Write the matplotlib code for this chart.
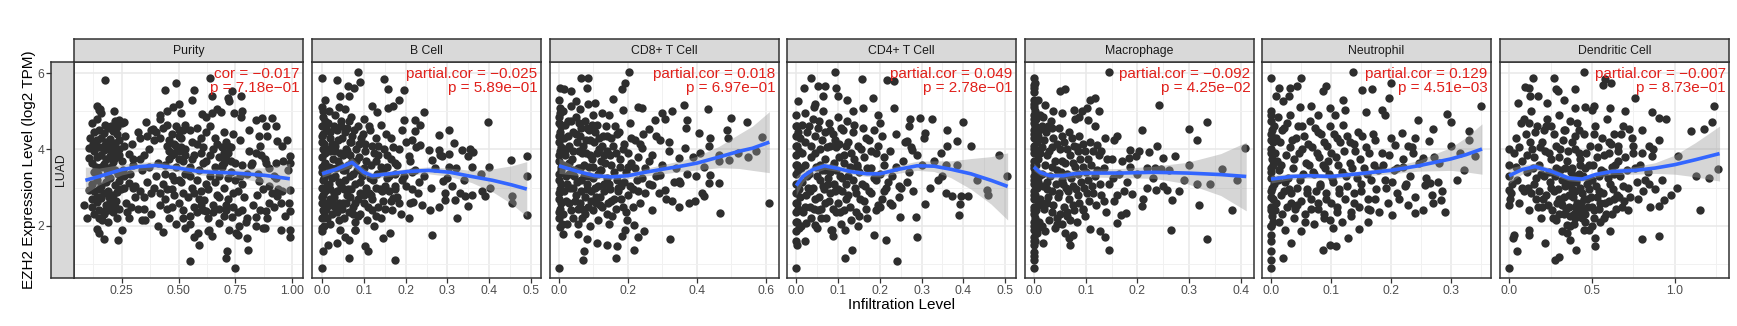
import numpy as np
import matplotlib.pyplot as plt

plt.rcParams['font.family'] = ['Liberation Sans', 'DejaVu Sans']

# facet titles / stats
cell_types = ["Purity", "B Cell", "CD8+ T Cell", "CD4+ T Cell",
              "Macrophage", "Neutrophil", "Dendritic Cell"]
cor_names = ["cor", "partial.cor", "partial.cor", "partial.cor",
             "partial.cor", "partial.cor", "partial.cor"]
cor_values = ["\u22120.017", "\u22120.025", "0.018", "0.049",
              "\u22120.092", "0.129", "\u22120.007"]
p_values = ["7.18e\u221201", "5.89e\u221201", "6.97e\u221201", "2.78e\u221201",
            "4.25e\u221202", "4.51e\u221203", "8.73e\u221201"]

x_ticks = [[0.25, 0.5, 0.75, 1.0], [0, .1, .2, .3, .4, .5], [0, .2, .4, .6],
           [0, .1, .2, .3, .4, .5], [0, .1, .2, .3, .4], [0, .1, .2, .3], [0, .5, 1.0]]
x_tick_labels = [["0.25", "0.50", "0.75", "1.00"],
                 ["0.0", "0.1", "0.2", "0.3", "0.4", "0.5"],
                 ["0.0", "0.2", "0.4", "0.6"],
                 ["0.0", "0.1", "0.2", "0.3", "0.4", "0.5"],
                 ["0.0", "0.1", "0.2", "0.3", "0.4"],
                 ["0.0", "0.1", "0.2", "0.3"],
                 ["0.0", "0.5", "1.0"]]
y_ticks = [2, 4, 6]
row_label = "LUAD"

# scatter points (infiltration, EZH2 log2 TPM)
purity_pts = [
    (0.178, 5.83), (0.569, 5.56), (0.44, 5.56), (0.49, 5.75), (0.646, 5.41), (0.64, 5.87),
    (0.72, 5.35), (0.773, 5.41), (0.736, 5.52), (0.142, 5.14), (0.152, 5.04), (0.218, 5.0),
    (0.561, 5.30), (0.91, 4.82), (0.93, 4.6), (0.978, 4.25), (0.99, 3.82), (0.99, 3.64),
    (0.99, 2.94), (0.985, 2.6), (0.99, 2.38), (0.99, 1.9), (0.99, 1.70), (0.95, 1.9),
    (0.88, 1.94), (0.807, 1.37), (0.747, 0.88), (0.715, 1.33), (0.71, 1.15), (0.551, 1.08),
    (0.59, 1.5), (0.587, 1.81), (0.43, 1.83), (0.352, 2.14), (0.235, 1.63), (0.174, 1.65),
    (0.149, 1.81), (0.14, 1.91), (0.097, 2.2), (0.086, 2.55), (0.108, 2.94), (0.108, 4.03),
    (0.111, 4.30), (0.108, 3.77), (0.24, 4.78), (0.262, 4.73), (0.357, 4.73), (0.386, 4.53),
    (0.418, 4.91), (0.474, 5.11), (0.51, 4.95), (0.605, 4.93), (0.649, 4.95), (0.686, 4.97),
    (0.722, 5.26), (0.745, 4.95), (0.774, 4.86), (0.81, 4.52), (0.854, 4.34), (0.839, 4.78),
    (0.868, 4.82), (0.883, 4.6), (0.934, 4.21), (0.956, 4.08), (0.883, 3.64), (0.861, 3.86),
    (0.825, 3.64), (0.78, 3.6), (0.854, 3.16), (0.898, 3.03), (0.927, 3.25), (0.846, 2.81),
    (0.898, 2.6), (0.934, 2.77), (0.956, 2.9), (0.883, 2.38), (0.839, 2.24), (0.795, 2.11),
    (0.766, 1.98), (0.803, 1.68), (0.751, 1.81), (0.722, 1.9), (0.736, 2.24), (0.708, 2.42),
    (0.678, 2.07), (0.634, 1.9), (0.649, 1.72), (0.62, 2.38), (0.612, 2.68),
    (0.13, 4.45), (0.15, 4.50), (0.17, 4.42), (0.19, 4.55), (0.21, 4.48), (0.23, 4.40),
    (0.14, 4.25), (0.16, 4.30), (0.18, 4.20), (0.20, 4.28), (0.22, 4.18), (0.24, 4.25),
    (0.26, 4.10), (0.13, 3.95), (0.15, 4.05), (0.17, 3.98), (0.19, 4.02), (0.21, 3.92),
    (0.23, 3.96), (0.14, 3.80), (0.16, 3.85), (0.18, 3.75), (0.20, 3.82), (0.22, 3.78),
    (0.24, 3.85), (0.12, 3.65), (0.17, 3.62), (0.21, 3.66), (0.25, 3.70), (0.28, 3.88),
    (0.30, 3.75), (0.12, 3.10), (0.14, 3.20), (0.16, 3.05), (0.18, 3.15), (0.20, 3.25),
    (0.22, 3.08), (0.24, 3.18), (0.13, 2.90), (0.15, 2.95), (0.17, 2.85), (0.19, 2.92),
    (0.21, 2.80), (0.23, 2.88), (0.26, 2.98), (0.28, 3.12), (0.12, 2.70), (0.14, 2.62),
    (0.16, 2.72), (0.18, 2.55), (0.20, 2.65), (0.22, 2.50), (0.15, 2.40), (0.17, 2.30),
    (0.19, 2.42), (0.21, 2.35), (0.24, 2.45), (0.27, 2.60), (0.29, 2.50), (0.13, 2.30),
    (0.19, 2.10), (0.23, 2.20), (0.25, 1.90), (0.12, 4.70), (0.14, 4.80), (0.155, 5.05),
    (0.16, 4.95), (0.205, 4.62), (0.22, 4.75), (0.25, 4.68), (0.23, 4.58),
    (0.30, 3.6), (0.33, 3.75), (0.35, 3.85), (0.37, 4.0), (0.33, 4.3), (0.38, 4.5),
    (0.42, 4.3), (0.45, 4.1), (0.47, 4.4), (0.49, 4.6), (0.51, 4.3), (0.53, 4.0),
    (0.48, 3.9), (0.50, 3.95), (0.46, 3.75), (0.52, 3.7), (0.44, 3.6), (0.55, 4.5),
    (0.56, 4.2), (0.58, 4.55), (0.60, 4.3), (0.61, 4.05), (0.57, 3.85), (0.40, 3.3),
    (0.43, 3.1), (0.45, 2.95), (0.48, 2.8), (0.50, 2.6), (0.52, 2.4), (0.47, 2.5),
    (0.44, 2.7), (0.42, 2.85), (0.39, 3.0), (0.36, 3.15), (0.33, 2.9), (0.31, 2.75),
    (0.35, 2.45), (0.38, 2.3), (0.41, 2.0), (0.46, 2.2), (0.49, 2.05), (0.53, 1.95),
    (0.55, 2.25), (0.57, 2.5), (0.54, 2.75), (0.56, 3.0), (0.58, 3.2), (0.60, 2.9),
    (0.62, 3.1), (0.59, 2.7), (0.61, 2.4), (0.63, 2.2), (0.65, 2.55), (0.67, 2.8),
    (0.64, 3.3), (0.66, 3.55), (0.68, 3.8), (0.70, 3.65), (0.72, 3.9), (0.69, 4.05),
    (0.71, 4.2), (0.66, 4.3), (0.74, 4.4), (0.73, 3.4), (0.75, 3.2), (0.70, 3.0),
    (0.72, 2.7), (0.68, 2.45), (0.70, 2.25), (0.74, 2.5), (0.76, 2.9), (0.78, 3.1),
    (0.80, 3.35), (0.82, 3.6), (0.84, 3.9), (0.86, 4.1), (0.88, 3.75), (0.90, 3.5),
    (0.92, 3.3), (0.94, 2.95), (0.96, 3.7), (0.98, 3.45), (0.95, 2.6), (0.92, 2.5),
    (0.89, 2.2), (0.86, 2.4), (0.84, 2.0), (0.87, 1.95), (0.80, 2.2), (0.78, 2.4),
    (0.76, 1.75), (0.63, 1.85), (0.57, 1.7), (0.52, 2.2), (0.50, 3.2), (0.47, 3.3),
    (0.53, 3.35), (0.55, 3.55), (0.62, 3.7), (0.64, 4.6), (0.62, 4.85), (0.67, 5.05),
    (0.78, 5.0), (0.45, 5.0), (0.42, 4.8), (0.50, 5.2),
    (0.125, 4.15), (0.135, 3.55), (0.145, 3.35), (0.155, 2.75), (0.165, 2.15), (0.175, 4.65),
    (0.185, 3.45), (0.195, 2.75), (0.205, 3.55), (0.215, 4.05), (0.225, 2.65), (0.235, 3.35),
    (0.245, 2.95), (0.255, 3.45), (0.265, 4.35), (0.275, 2.35), (0.285, 3.35), (0.295, 4.15),
    (0.31, 3.05), (0.32, 4.45), (0.34, 3.45), (0.35, 2.75), (0.37, 3.55), (0.38, 2.85),
    (0.39, 4.25), (0.41, 3.65), (0.42, 2.55), (0.43, 4.55), (0.44, 3.35), (0.45, 2.45),
    (0.46, 3.95), (0.47, 2.95), (0.48, 4.15), (0.49, 3.55), (0.5, 4.35), (0.51, 3.15),
    (0.52, 2.85), (0.53, 4.65), (0.54, 3.45), (0.55, 2.05), (0.56, 3.75), (0.57, 2.85),
    (0.58, 4.15), (0.59, 3.45), (0.6, 2.55), (0.61, 3.65), (0.62, 4.45), (0.63, 2.95),
    (0.64, 3.85), (0.65, 2.35), (0.66, 3.15), (0.67, 4.15), (0.68, 2.75), (0.69, 3.55),
    (0.7, 4.45), (0.71, 2.55), (0.72, 3.25), (0.73, 4.05), (0.74, 2.85), (0.75, 3.65),
    (0.76, 2.35), (0.77, 4.25), (0.79, 2.75), (0.81, 3.95), (0.83, 2.55), (0.85, 3.35),
    (0.87, 2.95), (0.89, 4.35), (0.91, 2.85), (0.93, 3.65), (0.97, 2.25), (0.15, 2.2),
    (0.17, 4.1), (0.19, 3.3), (0.21, 2.5), (0.13, 3.4), (0.2, 4.1), (0.16, 3.55),
    (0.18, 2.4), (0.22, 3.45), (0.14, 2.75), (0.24, 4.0), (0.12, 2.5), (0.26, 3.3),
    (0.28, 2.2), (0.3, 3.0), (0.32, 2.45), (0.34, 2.15), (0.36, 4.35), (0.4, 4.45),
    (0.45, 4.65), (0.48, 3.2), (0.52, 4.5), (0.55, 3.3), (0.58, 2.35), (0.6, 3.9),
    (0.65, 4.0), (0.68, 3.3), (0.73, 3.7), (0.77, 3.3), (0.46, 4.25), (0.5, 3.75),
    (0.49, 4.1), (0.51, 4.05), (0.47, 3.85), (0.53, 3.85), (0.5, 4.5), (0.7, 3.9),
    (0.71, 3.75), (0.69, 3.6), (0.72, 4.1),
]

bcell_pts = [
    (0.085, 6.04), (0.0, 5.87), (0.036, 5.83), (0.092, 5.76), (0.149, 5.85), (0.197, 5.56),
    (0.158, 5.58), (0.062, 5.65), (0.076, 5.61), (0.044, 5.39), (0.065, 5.39), (0.119, 5.14),
    (0.131, 4.97), (0.159, 5.08), (0.171, 5.14), (0.183, 5.30), (0.243, 4.97), (0.197, 4.78),
    (0.223, 4.78), (0.235, 4.65), (0.396, 4.73), (0.303, 4.52), (0.279, 4.38), (0.223, 4.47),
    (0.191, 4.52), (0.215, 4.25), (0.235, 4.12), (0.255, 3.99), (0.279, 3.99), (0.315, 4.17),
    (0.334, 3.99), (0.353, 4.02), (0.362, 3.92), (0.35, 3.83), (0.283, 3.86), (0.303, 3.88),
    (0.287, 3.82), (0.452, 3.73), (0.49, 3.83), (0.49, 3.29), (0.454, 2.79), (0.49, 2.29),
    (0.454, 2.59), (0.402, 2.99), (0.39, 2.77), (0.382, 2.90), (0.358, 2.81), (0.342, 2.77),
    (0.329, 2.86), (0.35, 2.51), (0.295, 2.68), (0.295, 2.86), (0.311, 3.03), (0.318, 2.68),
    (0.322, 2.2), (0.29, 3.16), (0.305, 3.55), (0.263, 3.73), (0.259, 2.42), (0.239, 2.55),
    (0.217, 2.61), (0.263, 1.76), (0.209, 2.2), (0.175, 1.09), (0.064, 1.15), (0.0, 0.88),
    (0.002, 1.33), (0.014, 1.5), (0.036, 1.56), (0.104, 1.46), (0.11, 1.33), (0.147, 1.68),
    (0.163, 1.81), (0.08, 1.88), (0.064, 1.63), (0.171, 2.72), (0.175, 3.03), (0.191, 3.2),
    (0.155, 3.25), (0.145, 3.47), (0.175, 3.64), (0.207, 3.83), (0.223, 3.47), (0.231, 3.14),
    (0.0, 5.1), (0.002, 4.85), (0.0, 4.6), (0.003, 4.4), (0.0, 4.2), (0.002, 4.0),
    (0.0, 3.8), (0.004, 3.6), (0.0, 3.4), (0.002, 3.2), (0.0, 3.0), (0.003, 2.8),
    (0.0, 2.6), (0.002, 2.4), (0.0, 2.2), (0.004, 2.0), (0.0, 1.85), (0.006, 5.3),
    (0.008, 3.9), (0.008, 2.9), (0.015, 4.7), (0.02, 4.3), (0.018, 3.95), (0.022, 3.5),
    (0.016, 3.1), (0.02, 2.7), (0.024, 2.3), (0.018, 2.05), (0.03, 4.9), (0.035, 4.5),
    (0.032, 4.1), (0.038, 3.7), (0.03, 3.3), (0.036, 2.9), (0.032, 2.5), (0.04, 2.15),
    (0.045, 4.75), (0.048, 4.3), (0.044, 3.9), (0.05, 3.45), (0.046, 3.05), (0.05, 2.6),
    (0.042, 1.9), (0.055, 5.05), (0.06, 4.55), (0.058, 4.0), (0.062, 3.6), (0.056, 3.2),
    (0.06, 2.8), (0.064, 2.35), (0.055, 1.7), (0.07, 4.85), (0.072, 4.35), (0.068, 3.85),
    (0.075, 3.35), (0.07, 2.95), (0.074, 2.5), (0.078, 2.1), (0.085, 4.6), (0.088, 4.15),
    (0.082, 3.7), (0.09, 3.15), (0.086, 2.7), (0.092, 2.3), (0.08, 1.9), (0.1, 4.8),
    (0.098, 4.4), (0.104, 3.95), (0.1, 3.5), (0.106, 3.0), (0.1, 2.6), (0.108, 2.15),
    (0.115, 4.5), (0.12, 4.1), (0.118, 3.6), (0.122, 3.2), (0.116, 2.8), (0.12, 2.4),
    (0.124, 2.0), (0.13, 4.3), (0.135, 3.85), (0.132, 3.35), (0.138, 2.95), (0.134, 2.5),
    (0.14, 4.65), (0.148, 4.0), (0.15, 3.05), (0.145, 2.65), (0.155, 3.55), (0.16, 2.9),
    (0.165, 4.3), (0.168, 2.4), (0.175, 3.35), (0.18, 2.75), (0.185, 4.0), (0.19, 2.3),
    (0.2, 3.05), (0.21, 3.7), (0.215, 2.95), (0.01, 4.55), (0.012, 3.35), (0.01, 2.45),
    (0.026, 3.75), (0.028, 2.85), (0.04, 5.1), (0.052, 2.2), (0.066, 4.2), (0.094, 3.45),
    (0.112, 2.85), (0.128, 3.7), (0.142, 2.2), (0.152, 4.4), (0.165, 3.75),
    (0.0, 4.35), (0.0, 3.55), (0.0, 2.75), (0.0, 1.95), (0.003, 5.0), (0.004, 4.15),
    (0.005, 3.25), (0.004, 2.35), (0.007, 4.75), (0.008, 3.65), (0.007, 2.6), (0.012, 4.0),
    (0.013, 3.05), (0.012, 2.2), (0.017, 5.0), (0.018, 4.45), (0.017, 3.55), (0.019, 2.95),
    (0.018, 2.55), (0.024, 4.15), (0.025, 3.25), (0.024, 2.6), (0.028, 4.6), (0.03, 3.95),
    (0.029, 2.75), (0.034, 3.5), (0.035, 2.35), (0.038, 4.25), (0.04, 3.15), (0.041, 2.6),
    (0.044, 3.6), (0.046, 4.6), (0.047, 2.45), (0.05, 3.85), (0.052, 2.95), (0.054, 4.45),
    (0.056, 3.45), (0.058, 2.6), (0.06, 3.95), (0.062, 2.95), (0.064, 4.75), (0.066, 3.3),
    (0.068, 2.75), (0.07, 4.2), (0.072, 3.7), (0.074, 2.3), (0.076, 4.5), (0.078, 3.1),
    (0.08, 2.6), (0.082, 4.0), (0.084, 3.45), (0.086, 2.25), (0.088, 3.8), (0.09, 2.85),
    (0.094, 4.3), (0.096, 3.3), (0.1, 2.8), (0.102, 4.15), (0.106, 3.7), (0.11, 2.5),
    (0.112, 4.6), (0.115, 3.25), (0.12, 2.7), (0.124, 3.9), (0.128, 3.0), (0.13, 2.25),
    (0.135, 4.1), (0.14, 3.55), (0.144, 2.9), (0.15, 2.45), (0.155, 3.85), (0.16, 3.3),
    (0.165, 2.65), (0.17, 4.05), (0.175, 2.95), (0.18, 3.6), (0.185, 2.6), (0.195, 3.3),
    (0.2, 4.2), (0.21, 2.6), (0.215, 3.4), (0.225, 4.05), (0.23, 2.85), (0.245, 3.3),
    (0.26, 3.0), (0.27, 3.5), (0.28, 2.5), (0.3, 3.25), (0.32, 3.5), (0.34, 3.2),
    (0.36, 3.55), (0.38, 3.35), (0.4, 3.55),
]

cd8_pts = [
    (0.204, 6.04), (0.065, 5.87), (0.083, 5.87), (0.192, 5.74), (0.184, 5.58), (0.002, 5.62),
    (0.016, 5.58), (0.036, 5.54), (0.08, 5.61), (0.158, 5.32), (0.104, 5.21), (0.05, 5.26),
    (0.002, 5.08), (0.24, 5.08), (0.23, 5.11), (0.187, 5.04), (0.299, 4.95), (0.328, 5.0),
    (0.362, 5.17), (0.433, 5.07), (0.308, 4.79), (0.372, 4.78), (0.367, 4.56), (0.26, 4.54),
    (0.279, 4.78), (0.50, 4.82), (0.545, 4.73), (0.488, 4.52), (0.406, 4.43), (0.438, 4.30),
    (0.49, 4.30), (0.59, 4.32), (0.571, 3.95), (0.547, 3.80), (0.518, 3.90), (0.493, 3.73),
    (0.464, 3.86), (0.435, 4.08), (0.408, 3.90), (0.349, 3.77), (0.365, 4.03), (0.318, 3.95),
    (0.294, 4.25), (0.24, 4.03), (0.464, 3.69), (0.437, 3.34), (0.396, 3.29), (0.435, 3.12),
    (0.464, 3.12), (0.42, 2.77), (0.415, 2.86), (0.378, 2.59), (0.394, 2.64), (0.347, 3.16),
    (0.333, 3.14), (0.352, 3.12), (0.61, 2.59), (0.466, 2.33), (0.323, 1.65), (0.347, 2.49),
    (0.328, 2.64), (0.308, 2.94), (0.289, 2.86), (0.269, 3.07), (0.294, 3.34), (0.248, 1.85),
    (0.23, 1.70), (0.219, 1.37), (0.165, 1.15), (0.073, 1.33), (0.07, 1.09), (0.0, 0.88),
    (0.002, 1.97), (0.012, 1.79), (0.055, 1.79), (0.08, 1.65), (0.109, 1.56), (0.138, 1.50),
    (0.167, 1.46), (0.182, 1.72), (0.192, 1.90), (0.219, 2.03), (0.196, 2.16),
    (0.0, 5.3), (0.003, 4.95), (0.0, 4.7), (0.004, 4.45), (0.0, 4.2), (0.003, 3.95),
    (0.0, 3.7), (0.005, 3.45), (0.0, 3.2), (0.003, 2.95), (0.0, 2.7), (0.004, 2.45),
    (0.0, 2.2), (0.012, 5.0), (0.015, 4.3), (0.012, 3.6), (0.015, 2.9), (0.012, 2.3),
    (0.025, 4.75), (0.03, 4.1), (0.028, 3.35), (0.03, 2.6), (0.035, 5.15), (0.04, 4.45),
    (0.038, 3.75), (0.042, 3.0), (0.04, 2.2), (0.05, 4.85), (0.052, 4.2), (0.055, 3.5),
    (0.05, 2.8), (0.056, 2.05), (0.062, 5.05), (0.065, 4.55), (0.068, 3.9), (0.063, 3.2),
    (0.066, 2.45), (0.075, 4.75), (0.078, 4.25), (0.072, 3.6), (0.08, 2.95), (0.076, 2.3),
    (0.085, 5.2), (0.088, 4.5), (0.09, 3.85), (0.086, 3.3), (0.092, 2.65), (0.09, 2.0),
    (0.1, 4.9), (0.102, 4.2), (0.098, 3.55), (0.105, 3.0), (0.1, 2.4), (0.11, 4.65),
    (0.115, 4.0), (0.112, 3.35), (0.118, 2.75), (0.114, 2.15), (0.125, 4.95), (0.128, 4.35),
    (0.122, 3.7), (0.13, 3.1), (0.126, 2.5), (0.135, 4.6), (0.14, 3.95), (0.138, 3.25),
    (0.142, 2.6), (0.145, 4.9), (0.15, 4.3), (0.152, 3.6), (0.148, 2.95), (0.155, 2.25),
    (0.162, 4.6), (0.165, 3.9), (0.168, 3.2), (0.16, 2.7), (0.175, 4.45), (0.178, 3.75),
    (0.18, 3.05), (0.185, 2.5), (0.19, 4.15), (0.195, 3.4), (0.2, 2.8), (0.205, 4.7),
    (0.21, 3.65), (0.215, 2.95), (0.22, 4.25), (0.225, 3.2), (0.23, 3.8), (0.235, 2.6),
    (0.245, 4.4), (0.25, 3.5), (0.26, 3.1), (0.27, 3.85), (0.28, 4.35), (0.02, 4.0),
    (0.022, 3.1), (0.045, 3.3), (0.06, 2.6), (0.095, 4.65), (0.12, 3.45), (0.17, 2.9),
    (0.2, 3.55), (0.145, 2.05), (0.058, 4.7), (0.108, 2.75), (0.132, 3.85),
    (0.0, 4.85), (0.0, 4.35), (0.0, 3.85), (0.0, 3.35), (0.0, 2.85), (0.0, 2.35),
    (0.006, 4.6), (0.007, 4.05), (0.006, 3.55), (0.007, 3.1), (0.006, 2.6), (0.008, 2.05),
    (0.018, 4.65), (0.018, 3.85), (0.02, 3.3), (0.02, 2.65), (0.024, 2.05), (0.026, 4.35),
    (0.028, 3.65), (0.032, 3.0), (0.034, 4.75), (0.035, 2.4), (0.04, 3.95), (0.042, 3.45),
    (0.046, 2.65), (0.048, 4.4), (0.052, 3.15), (0.055, 2.45), (0.058, 3.95), (0.06, 4.35),
    (0.062, 3.5), (0.064, 2.9), (0.068, 2.2), (0.07, 4.1), (0.072, 3.3), (0.075, 2.75),
    (0.078, 3.9), (0.08, 4.55), (0.082, 3.1), (0.084, 2.5), (0.088, 3.55), (0.09, 4.25),
    (0.094, 2.9), (0.096, 3.75), (0.1, 3.25), (0.104, 4.45), (0.106, 2.6), (0.11, 3.9),
    (0.112, 3.05), (0.116, 4.3), (0.12, 2.55), (0.122, 3.45), (0.126, 4.1), (0.13, 2.9),
    (0.134, 3.65), (0.138, 2.3), (0.14, 4.35), (0.144, 3.1), (0.148, 3.85), (0.152, 2.65),
    (0.156, 4.1), (0.16, 3.4), (0.164, 2.45), (0.168, 4.4), (0.172, 3.0), (0.176, 3.55),
    (0.18, 2.7), (0.185, 4.0), (0.19, 3.15), (0.195, 2.35), (0.2, 3.9), (0.205, 3.05),
    (0.21, 4.3), (0.215, 2.5), (0.22, 3.5), (0.23, 2.9), (0.235, 4.15), (0.24, 3.25),
    (0.25, 2.85), (0.26, 3.7), (0.27, 2.4), (0.28, 3.3), (0.3, 3.6), (0.31, 2.7),
    (0.32, 4.2), (0.34, 3.5), (0.37, 3.35), (0.39, 3.8), (0.42, 3.55),
]

cd4_pts = [
    (0.094, 6.04), (0.036, 5.87), (0.157, 5.85), (0.217, 5.83), (0.233, 5.78), (0.018, 5.61),
    (0.052, 5.65), (0.068, 5.65), (0.095, 5.61), (0.10, 5.39), (0.063, 5.39), (0.044, 5.20),
    (0.004, 5.26), (0.121, 5.30), (0.183, 5.35), (0.161, 5.08), (0.233, 5.08), (0.195, 4.91),
    (0.20, 4.69), (0.137, 5.0), (0.273, 4.79), (0.296, 4.82), (0.324, 4.79), (0.269, 4.60),
    (0.398, 4.73), (0.36, 4.52), (0.309, 4.43), (0.305, 4.30), (0.384, 4.21), (0.418, 4.08),
    (0.362, 4.08), (0.265, 4.21), (0.277, 3.99), (0.289, 3.86), (0.346, 3.90), (0.485, 3.84),
    (0.358, 3.60), (0.386, 3.60), (0.339, 3.21), (0.505, 3.29), (0.432, 3.21), (0.457, 2.94),
    (0.458, 2.81), (0.412, 2.77), (0.394, 2.79), (0.359, 2.86), (0.374, 2.77), (0.392, 2.58),
    (0.39, 2.29), (0.309, 2.58), (0.289, 1.70), (0.286, 2.24), (0.241, 1.08), (0.117, 1.15),
    (0.134, 1.37), (0.0, 0.88), (0.002, 1.50), (0.02, 1.59), (0.024, 2.07), (0.044, 2.03),
    (0.088, 1.72), (0.084, 1.88), (0.117, 1.90), (0.149, 1.98), (0.185, 1.76), (0.215, 1.63),
    (0.249, 2.24), (0.225, 2.59), (0.209, 2.90), (0.245, 3.03),
    (0.0, 4.9), (0.002, 4.6), (0.0, 4.35), (0.003, 4.1), (0.0, 3.85), (0.002, 3.6),
    (0.0, 3.35), (0.003, 3.1), (0.0, 2.85), (0.002, 2.6), (0.0, 2.35), (0.003, 2.1),
    (0.0, 1.85), (0.01, 4.3), (0.012, 3.5), (0.01, 2.75), (0.012, 2.0),
    (0.02, 4.95), (0.022, 4.2), (0.025, 3.3), (0.02, 2.5), (0.03, 4.6), (0.035, 3.8),
    (0.032, 2.9), (0.036, 2.2), (0.042, 5.1), (0.045, 4.35), (0.048, 3.55), (0.044, 2.7),
    (0.05, 1.95), (0.055, 4.75), (0.058, 4.0), (0.056, 3.2), (0.06, 2.45), (0.065, 5.0),
    (0.068, 4.45), (0.07, 3.75), (0.066, 2.95), (0.072, 2.2), (0.078, 4.7), (0.08, 4.1),
    (0.082, 3.4), (0.078, 2.65), (0.085, 1.9), (0.088, 4.4), (0.09, 3.65), (0.092, 2.9),
    (0.095, 2.35), (0.1, 4.85), (0.102, 4.15), (0.104, 3.3), (0.1, 2.6), (0.108, 2.05),
    (0.112, 4.5), (0.115, 3.85), (0.118, 3.1), (0.114, 2.4), (0.122, 4.75), (0.125, 4.2),
    (0.128, 3.55), (0.124, 2.8), (0.13, 2.15), (0.135, 4.45), (0.138, 3.75), (0.14, 3.0),
    (0.142, 2.35), (0.148, 4.1), (0.15, 3.4), (0.152, 2.7), (0.16, 4.55), (0.162, 3.8),
    (0.165, 3.05), (0.168, 2.45), (0.175, 4.25), (0.178, 3.5), (0.18, 2.85), (0.19, 3.9),
    (0.192, 3.2), (0.195, 2.55), (0.205, 4.35), (0.21, 3.6), (0.215, 3.0), (0.225, 3.95),
    (0.23, 3.3), (0.24, 4.4), (0.245, 2.75), (0.255, 3.7), (0.265, 3.15), (0.275, 4.05),
    (0.015, 3.9), (0.028, 3.0), (0.04, 4.8), (0.052, 2.4), (0.075, 3.1), (0.096, 4.05),
    (0.11, 2.9), (0.145, 3.6), (0.17, 2.2), (0.185, 4.5), (0.2, 2.5), (0.062, 3.45),
    (0.0, 4.6), (0.0, 4.1), (0.0, 3.6), (0.0, 3.1), (0.0, 2.6), (0.0, 2.1),
    (0.0, 1.6), (0.005, 4.45), (0.006, 3.95), (0.005, 3.45), (0.006, 2.95), (0.005, 2.45),
    (0.006, 1.95), (0.014, 4.65), (0.015, 3.15), (0.016, 2.35), (0.02, 3.6), (0.024, 2.8),
    (0.026, 4.45), (0.03, 3.35), (0.033, 2.5), (0.036, 4.1), (0.04, 3.0), (0.042, 2.45),
    (0.046, 3.9), (0.05, 3.3), (0.052, 4.55), (0.054, 2.75), (0.058, 3.6), (0.06, 2.2),
    (0.062, 4.25), (0.064, 3.05), (0.068, 3.45), (0.07, 2.6), (0.074, 4.05), (0.076, 3.25),
    (0.08, 2.85), (0.082, 4.5), (0.085, 3.55), (0.088, 2.45), (0.09, 3.1), (0.094, 4.25),
    (0.096, 3.45), (0.1, 2.95), (0.102, 3.8), (0.106, 2.35), (0.108, 4.55), (0.11, 3.25),
    (0.114, 3.65), (0.118, 2.7), (0.12, 4.1), (0.124, 3.3), (0.128, 2.5), (0.132, 3.9),
    (0.135, 3.2), (0.138, 4.65), (0.142, 2.85), (0.145, 3.55), (0.15, 2.25), (0.155, 4.0),
    (0.158, 3.1), (0.162, 2.65), (0.166, 4.3), (0.17, 3.5), (0.175, 2.9), (0.18, 3.95),
    (0.185, 3.25), (0.19, 2.4), (0.195, 4.1), (0.2, 3.35), (0.205, 2.7), (0.21, 3.8),
    (0.22, 3.15), (0.23, 2.55), (0.24, 3.55), (0.25, 3.0), (0.26, 4.2), (0.27, 3.4),
    (0.28, 2.9), (0.3, 3.6), (0.32, 3.0), (0.33, 3.7), (0.35, 3.3),
]

macro_pts = [
    (0.146, 6.04), (0.0, 5.87), (0.002, 5.74), (0.05, 5.54), (0.06, 5.58), (0.109, 5.30),
    (0.118, 5.35), (0.021, 5.17), (0.038, 5.0), (0.055, 4.95), (0.078, 5.04), (0.093, 5.0),
    (0.102, 5.08), (0.126, 5.01), (0.241, 5.17), (0.079, 4.79), (0.088, 4.85), (0.105, 4.78),
    (0.118, 4.60), (0.036, 4.56), (0.012, 4.91), (0.334, 4.73), (0.30, 4.53), (0.315, 4.24),
    (0.209, 4.52), (0.161, 4.36), (0.154, 4.25), (0.138, 4.30), (0.122, 4.12), (0.13, 3.95),
    (0.408, 4.03), (0.237, 4.08), (0.203, 3.97), (0.186, 3.99), (0.198, 3.82), (0.183, 3.77),
    (0.222, 3.92), (0.25, 3.77), (0.272, 3.83), (0.245, 3.48), (0.219, 3.51), (0.234, 3.51),
    (0.364, 3.48), (0.393, 3.21), (0.289, 3.21), (0.315, 3.10), (0.235, 2.94), (0.219, 2.99),
    (0.25, 3.05), (0.258, 2.94), (0.266, 2.68), (0.19, 2.84), (0.318, 2.55), (0.209, 2.52),
    (0.383, 2.40), (0.264, 1.90), (0.334, 1.65), (0.178, 2.33), (0.169, 2.29), (0.161, 2.07),
    (0.145, 1.37), (0.128, 1.85), (0.137, 1.70), (0.109, 1.91), (0.076, 1.76), (0.067, 1.68),
    (0.07, 1.50), (0.017, 1.56), (0.0, 0.88), (0.0, 1.11),
    (0.0, 5.7), (0.0, 5.5), (0.001, 5.3), (0.0, 5.1), (0.0, 4.9), (0.001, 4.7),
    (0.0, 4.5), (0.0, 4.3), (0.001, 4.1), (0.0, 3.9), (0.0, 3.7), (0.001, 3.5),
    (0.0, 3.3), (0.0, 3.1), (0.001, 2.9), (0.0, 2.7), (0.0, 2.5), (0.001, 2.3),
    (0.0, 2.1), (0.0, 1.9), (0.001, 1.7), (0.0, 1.5), (0.0, 1.3), (0.005, 4.8),
    (0.006, 4.2), (0.005, 3.6), (0.006, 3.0), (0.005, 2.4), (0.006, 1.8), (0.01, 4.5),
    (0.012, 3.9), (0.01, 3.3), (0.012, 2.7), (0.01, 2.1),
    (0.018, 4.85), (0.02, 4.25), (0.022, 3.6), (0.018, 3.05), (0.02, 2.45), (0.022, 1.85),
    (0.028, 4.6), (0.03, 3.95), (0.032, 3.3), (0.028, 2.75), (0.03, 2.15), (0.038, 4.3),
    (0.04, 3.7), (0.042, 3.1), (0.038, 2.55), (0.04, 1.95), (0.048, 4.55), (0.05, 4.0),
    (0.052, 3.4), (0.048, 2.85), (0.05, 2.3), (0.058, 4.2), (0.06, 3.65), (0.062, 3.0),
    (0.058, 2.5), (0.06, 1.8), (0.068, 4.45), (0.07, 3.85), (0.072, 3.25), (0.068, 2.7),
    (0.07, 2.15), (0.078, 4.1), (0.08, 3.55), (0.082, 2.95), (0.078, 2.4), (0.088, 4.35),
    (0.09, 3.75), (0.092, 3.15), (0.088, 2.6), (0.098, 3.95), (0.1, 3.4), (0.102, 2.85),
    (0.098, 2.25), (0.108, 4.2), (0.11, 3.6), (0.112, 3.05), (0.118, 3.3), (0.12, 2.55),
    (0.125, 3.85), (0.13, 2.8), (0.135, 3.5), (0.14, 2.35), (0.145, 3.1), (0.15, 3.75),
    (0.155, 2.65), (0.165, 3.35), (0.175, 2.9), (0.185, 3.55), (0.015, 3.35), (0.025, 2.95),
    (0.035, 4.05), (0.045, 2.05), (0.055, 3.2), (0.065, 2.35), (0.085, 3.95), (0.095, 2.45),
    (0.0, 5.6), (0.0, 5.2), (0.0, 4.8), (0.0, 4.4), (0.0, 4.0), (0.0, 3.6),
    (0.0, 3.2), (0.0, 2.8), (0.0, 2.4), (0.0, 2.0), (0.0, 1.6), (0.0, 1.2),
    (0.003, 5.0), (0.003, 4.6), (0.003, 4.0), (0.003, 3.4), (0.003, 2.8), (0.003, 2.2),
    (0.003, 1.6), (0.008, 5.3), (0.008, 4.35), (0.008, 3.75), (0.008, 3.15), (0.008, 2.55),
    (0.008, 1.95), (0.015, 4.6), (0.015, 4.05), (0.015, 2.6), (0.015, 2.0),
    (0.024, 4.45), (0.025, 3.85), (0.026, 3.15), (0.025, 2.6), (0.034, 4.75), (0.035, 3.55),
    (0.036, 2.9), (0.035, 2.35), (0.044, 4.15), (0.045, 3.45), (0.046, 2.75), (0.044, 2.2),
    (0.054, 4.35), (0.055, 3.7), (0.056, 3.1), (0.055, 2.05), (0.064, 4.0), (0.065, 3.35),
    (0.066, 2.9), (0.064, 2.25), (0.074, 4.3), (0.075, 3.65), (0.076, 3.05), (0.075, 2.55),
    (0.084, 4.05), (0.085, 3.35), (0.086, 2.8), (0.084, 2.1), (0.094, 4.15), (0.095, 3.55),
    (0.096, 3.0), (0.094, 2.4), (0.104, 3.75), (0.105, 3.2), (0.106, 2.65), (0.114, 3.95),
    (0.115, 2.85), (0.122, 3.45), (0.128, 3.1), (0.135, 2.65), (0.142, 3.75), (0.152, 3.25),
    (0.16, 2.8), (0.17, 3.7), (0.18, 3.15), (0.2, 3.35), (0.21, 2.7), (0.23, 3.25),
    (0.26, 3.45), (0.28, 2.9), (0.3, 3.6), (0.34, 3.1),
]

neut_pts = [
    (0.137, 6.04), (0.0, 5.87), (0.05, 5.87), (0.014, 5.61), (0.031, 5.61), (0.044, 5.65),
    (0.092, 5.67), (0.087, 5.52), (0.151, 5.56), (0.169, 5.58), (0.201, 5.74), (0.197, 5.35),
    (0.351, 5.14), (0.008, 5.39), (0.02, 5.26), (0.03, 5.39), (0.048, 5.11), (0.067, 5.13),
    (0.098, 5.08), (0.078, 4.91), (0.12, 5.30), (0.123, 5.04), (0.185, 5.04), (0.19, 4.91),
    (0.158, 4.97), (0.293, 4.93), (0.301, 4.73), (0.245, 4.78), (0.271, 4.53), (0.219, 4.43),
    (0.241, 4.30), (0.33, 4.47), (0.33, 4.25), (0.263, 4.21), (0.30, 4.08), (0.316, 3.90),
    (0.341, 3.83), (0.322, 3.47), (0.31, 3.21), (0.28, 3.64), (0.253, 3.77), (0.237, 3.90),
    (0.228, 4.08), (0.207, 4.12), (0.221, 3.55), (0.224, 3.03), (0.257, 3.07), (0.265, 3.12),
    (0.285, 2.90), (0.268, 2.81), (0.27, 2.59), (0.284, 2.67), (0.29, 2.35), (0.254, 2.40),
    (0.241, 2.33), (0.228, 2.55), (0.202, 2.29), (0.162, 2.11), (0.146, 1.91), (0.129, 1.68),
    (0.109, 1.48), (0.098, 1.50), (0.087, 1.37), (0.034, 1.55), (0.02, 1.15), (0.0, 1.33),
    (0.0, 1.11), (0.0, 0.88), (0.0, 1.98),
    (0.0, 5.0), (0.0, 4.75), (0.001, 4.5), (0.0, 4.25), (0.0, 4.0), (0.001, 3.75),
    (0.0, 3.5), (0.0, 3.25), (0.001, 3.0), (0.0, 2.75), (0.0, 2.5), (0.001, 2.25),
    (0.0, 1.75), (0.005, 4.6), (0.006, 3.9), (0.005, 3.1), (0.006, 2.4),
    (0.012, 4.85), (0.015, 4.2), (0.014, 3.45), (0.016, 2.8), (0.013, 2.1), (0.022, 4.55),
    (0.025, 3.85), (0.024, 3.15), (0.026, 2.5), (0.023, 1.9), (0.032, 4.9), (0.035, 4.25),
    (0.036, 3.5), (0.034, 2.85), (0.038, 2.2), (0.045, 4.6), (0.046, 3.9), (0.048, 3.2),
    (0.044, 2.55), (0.05, 1.85), (0.055, 4.35), (0.058, 3.65), (0.06, 2.95), (0.056, 2.3),
    (0.065, 4.75), (0.068, 4.05), (0.07, 3.4), (0.066, 2.7), (0.072, 2.05), (0.078, 4.45),
    (0.08, 3.8), (0.082, 3.1), (0.078, 2.45), (0.088, 4.2), (0.09, 3.5), (0.092, 2.85),
    (0.088, 2.2), (0.098, 4.6), (0.1, 3.9), (0.102, 3.25), (0.1, 2.6), (0.104, 1.95),
    (0.11, 4.3), (0.112, 3.6), (0.114, 2.95), (0.11, 2.35), (0.12, 4.65), (0.122, 3.95),
    (0.125, 3.3), (0.124, 2.7), (0.132, 4.2), (0.135, 3.5), (0.138, 2.85), (0.134, 2.25),
    (0.145, 4.45), (0.148, 3.75), (0.15, 3.1), (0.146, 2.5), (0.158, 4.05), (0.16, 3.35),
    (0.162, 2.7), (0.17, 4.4), (0.172, 3.6), (0.175, 2.95), (0.18, 2.35), (0.185, 3.9),
    (0.19, 3.2), (0.195, 2.6), (0.2, 4.3), (0.205, 3.45), (0.21, 2.85), (0.22, 3.75),
    (0.225, 3.1), (0.235, 4.05), (0.24, 2.75), (0.01, 3.7), (0.03, 2.95), (0.052, 4.0),
    (0.075, 2.9), (0.095, 3.7), (0.118, 2.1), (0.14, 3.95), (0.165, 2.4), (0.106, 4.9),
    (0.0, 4.9), (0.0, 4.4), (0.0, 3.9), (0.0, 3.4), (0.0, 2.9), (0.0, 2.4),
    (0.0, 2.0), (0.0, 1.6), (0.003, 4.2), (0.003, 3.6), (0.003, 2.7), (0.003, 2.1),
    (0.008, 4.3), (0.011, 3.2), (0.009, 2.6), (0.019, 4.5), (0.017, 3.6), (0.021, 2.9),
    (0.018, 2.3), (0.027, 4.7), (0.031, 4.05), (0.028, 3.25), (0.033, 2.6), (0.041, 4.3),
    (0.039, 3.75), (0.043, 3.0), (0.04, 2.45), (0.051, 4.6), (0.054, 3.35), (0.05, 2.65),
    (0.057, 2.1), (0.061, 4.15), (0.064, 3.6), (0.06, 2.85), (0.067, 2.45), (0.073, 4.55),
    (0.076, 3.9), (0.072, 3.35), (0.079, 2.6), (0.083, 4.4), (0.086, 3.6), (0.082, 3.05),
    (0.089, 2.3), (0.093, 4.1), (0.097, 3.35), (0.092, 2.7), (0.099, 2.15), (0.105, 4.4),
    (0.108, 3.8), (0.104, 3.15), (0.11, 2.5), (0.115, 4.2), (0.119, 3.4), (0.114, 2.85),
    (0.127, 4.35), (0.131, 3.65), (0.126, 3.05), (0.133, 2.35), (0.139, 4.15), (0.143, 3.25),
    (0.138, 2.6), (0.151, 4.35), (0.155, 3.5), (0.15, 2.9), (0.163, 3.9), (0.167, 3.2),
    (0.161, 2.45), (0.174, 4.25), (0.179, 3.45), (0.173, 2.7), (0.187, 3.6), (0.192, 3.0),
    (0.197, 3.85), (0.202, 3.15), (0.211, 3.5), (0.214, 2.7), (0.232, 3.3), (0.247, 3.65),
    (0.258, 3.25), (0.272, 3.8), (0.279, 3.15),
]

dc_pts = [
    (0.454, 6.04), (0.147, 5.87), (0.268, 5.87), (0.097, 5.63), (0.117, 5.61), (0.28, 5.58),
    (0.294, 5.52), (0.399, 5.58), (0.581, 5.84), (0.617, 5.74), (0.565, 5.69), (0.762, 5.35),
    (0.056, 5.21), (0.127, 5.39), (0.177, 5.39), (0.228, 5.21), (0.329, 5.30), (0.399, 5.08),
    (0.46, 5.11), (0.51, 5.13), (0.5, 5.04), (0.611, 5.08), (0.702, 5.0), (0.863, 4.97),
    (0.903, 4.82), (0.948, 4.79), (1.236, 5.14), (1.222, 4.73), (1.175, 4.53), (1.10, 4.47),
    (1.02, 3.83), (1.125, 3.29), (1.206, 3.25), (1.262, 3.48), (1.155, 2.40), (0.903, 1.72),
    (0.802, 1.65), (1.014, 2.99), (0.974, 2.81), (0.933, 2.68), (0.903, 2.52), (0.883, 2.96),
    (0.847, 3.10), (0.923, 3.21), (0.863, 3.82), (0.903, 4.25), (0.843, 4.08), (0.802, 4.52),
    (0.722, 4.53), (0.0, 0.88), (0.05, 1.33), (0.026, 1.68), (0.032, 1.76), (0.0, 2.55),
    (0.012, 2.86), (0.0, 2.94), (0.0, 4.01), (0.117, 1.76), (0.117, 1.90), (0.218, 1.55),
    (0.278, 1.11), (0.302, 1.18), (0.405, 1.37), (0.516, 1.48), (0.611, 1.85), (0.52, 1.68),
    (0.369, 1.63), (0.319, 1.85), (0.349, 2.03),
    (0.0, 3.3), (0.0, 3.6), (0.005, 2.7), (0.03, 3.9), (0.04, 4.3), (0.05, 3.2),
    (0.06, 2.6), (0.07, 4.7), (0.08, 3.7), (0.09, 2.9), (0.1, 4.4), (0.11, 3.4),
    (0.12, 2.4), (0.13, 5.0), (0.14, 4.0), (0.15, 3.1), (0.16, 2.7), (0.17, 4.6),
    (0.18, 3.6), (0.19, 2.2), (0.2, 4.2), (0.21, 3.3), (0.22, 2.8), (0.23, 4.8),
    (0.24, 3.9), (0.25, 3.0), (0.26, 2.4), (0.27, 4.4), (0.28, 3.5), (0.29, 2.6),
    (0.3, 4.9), (0.31, 4.0), (0.32, 3.2), (0.33, 2.3), (0.34, 4.5), (0.35, 3.7),
    (0.36, 2.8), (0.37, 2.0), (0.38, 4.2), (0.39, 3.3), (0.4, 2.5), (0.41, 4.7),
    (0.42, 3.9), (0.43, 3.0), (0.44, 2.2), (0.45, 4.4), (0.46, 3.5), (0.47, 2.7),
    (0.48, 1.9), (0.49, 4.1), (0.5, 3.2), (0.51, 2.4), (0.52, 4.6), (0.53, 3.8),
    (0.54, 2.9), (0.55, 2.1), (0.56, 4.3), (0.57, 3.4), (0.58, 2.6), (0.59, 4.8),
    (0.6, 3.9), (0.61, 3.1), (0.62, 2.3), (0.63, 4.4), (0.64, 3.6), (0.65, 2.8),
    (0.66, 4.1), (0.67, 3.3), (0.68, 2.5), (0.7, 3.8), (0.72, 3.0), (0.74, 4.3),
    (0.76, 3.5), (0.78, 2.7), (0.8, 3.9), (0.82, 3.2), (0.85, 2.5),
    (0.12, 4.7), (0.15, 3.8), (0.18, 2.9), (0.21, 4.5), (0.24, 3.4), (0.27, 2.9),
    (0.3, 3.8), (0.33, 4.5), (0.36, 3.2), (0.39, 2.3), (0.42, 4.5), (0.45, 2.7),
    (0.48, 3.6), (0.51, 4.4), (0.54, 3.3), (0.57, 2.2), (0.6, 4.2), (0.63, 2.7),
    (0.66, 3.7), (0.69, 4.6), (0.72, 2.4), (0.75, 3.9), (0.2, 2.5), (0.3, 2.7),
    (0.4, 2.9), (0.5, 2.0), (0.35, 1.8), (0.45, 1.9), (0.55, 2.6), (0.4, 4.0),
    (0.43, 3.6), (0.47, 3.1), (0.38, 3.5), (0.25, 4.6), (0.32, 2.55), (0.44, 2.45),
    (0.37, 4.75), (0.53, 2.75), (0.62, 3.55), (0.28, 2.15), (0.41, 3.25),
    (0.105, 3.85), (0.115, 3.0), (0.125, 4.2), (0.135, 2.85), (0.145, 3.5), (0.155, 4.45),
    (0.165, 3.25), (0.175, 2.5), (0.185, 4.05), (0.195, 3.35), (0.205, 2.7), (0.215, 3.95),
    (0.225, 4.6), (0.235, 2.55), (0.245, 3.15), (0.255, 3.75), (0.265, 2.2), (0.275, 3.3),
    (0.285, 4.1), (0.295, 2.95), (0.305, 3.45), (0.315, 2.6), (0.325, 4.25), (0.335, 3.05),
    (0.345, 2.45), (0.355, 3.95), (0.365, 2.25), (0.375, 3.4), (0.385, 2.75), (0.395, 4.35),
    (0.405, 3.15), (0.415, 2.35), (0.425, 3.75), (0.435, 2.6), (0.445, 3.3), (0.455, 2.1),
    (0.465, 3.9), (0.475, 2.5), (0.485, 3.2), (0.495, 2.75), (0.505, 3.6), (0.515, 2.2),
    (0.525, 3.05), (0.535, 4.05), (0.545, 2.45), (0.555, 3.45), (0.565, 2.85), (0.575, 3.85),
    (0.585, 2.3), (0.595, 3.25), (0.605, 2.65), (0.615, 4.15), (0.625, 2.95), (0.635, 3.35),
    (0.645, 2.45), (0.655, 3.95), (0.665, 2.75), (0.675, 4.4), (0.685, 3.05), (0.695, 2.65),
    (0.71, 3.45), (0.73, 2.75), (0.75, 4.1), (0.77, 3.15), (0.79, 3.6), (0.81, 2.9),
    (0.84, 3.4), (0.87, 4.0), (0.06, 4.05), (0.08, 3.0), (0.09, 4.8), (0.04, 3.55),
    (0.02, 3.1), (0.3, 2.3), (0.4, 2.2), (0.33, 2.75), (0.43, 2.4), (0.36, 2.5),
    (0.46, 2.3), (0.5, 2.5), (0.39, 2.05), (0.41, 2.6), (0.38, 2.95), (0.42, 3.35),
    (0.44, 2.85), (0.34, 3.5), (0.48, 2.95), (0.37, 3.1),
]

all_pts = [purity_pts, bcell_pts, cd8_pts, cd4_pts, macro_pts, neut_pts, dc_pts]

# loess fit (x, fitted, half-width of band)
fit_x = [
    [0.09, 0.15, 0.25, 0.33, 0.40, 0.50, 0.59, 0.66, 0.75, 0.88, 0.99],
    [0.0, 0.032, 0.072, 0.10, 0.12, 0.16, 0.205, 0.255, 0.306, 0.358, 0.408, 0.454, 0.49],
    [0.0, 0.055, 0.104, 0.153, 0.20, 0.25, 0.30, 0.347, 0.40, 0.464, 0.522, 0.561, 0.61],
    [0.0, 0.016, 0.04, 0.068, 0.096, 0.129, 0.169, 0.20, 0.241, 0.289, 0.33, 0.37, 0.418, 0.466, 0.506],
    [0.0, 0.012, 0.031, 0.057, 0.076, 0.102, 0.167, 0.232, 0.296, 0.361, 0.41],
    [0.0, 0.034, 0.062, 0.10, 0.145, 0.20, 0.246, 0.30, 0.325, 0.352],
    [0.0, 0.077, 0.157, 0.258, 0.359, 0.44, 0.52, 0.62, 0.76, 0.88, 1.0, 1.125, 1.27],
]
fit_y = [
    [3.19, 3.29, 3.47, 3.55, 3.58, 3.51, 3.42, 3.40, 3.38, 3.32, 3.23],
    [3.36, 3.47, 3.66, 3.40, 3.31, 3.36, 3.42, 3.45, 3.40, 3.29, 3.19, 3.07, 2.96],
    [3.57, 3.42, 3.31, 3.28, 3.31, 3.40, 3.48, 3.55, 3.64, 3.80, 3.95, 4.03, 4.19],
    [3.05, 3.29, 3.47, 3.57, 3.51, 3.42, 3.36, 3.36, 3.47, 3.57, 3.56, 3.48, 3.36, 3.19, 3.03],
    [3.54, 3.40, 3.31, 3.31, 3.36, 3.38, 3.38, 3.40, 3.38, 3.34, 3.29],
    [3.22, 3.29, 3.31, 3.29, 3.36, 3.45, 3.57, 3.75, 3.86, 4.01],
    [3.31, 3.47, 3.55, 3.42, 3.25, 3.22, 3.34, 3.42, 3.45, 3.51, 3.60, 3.73, 3.89],
]
fit_se = [
    [0.35, 0.22, 0.14, 0.11, 0.10, 0.09, 0.09, 0.09, 0.11, 0.20, 0.40],
    [0.09, 0.08, 0.12, 0.10, 0.08, 0.07, 0.08, 0.09, 0.11, 0.16, 0.30, 0.50, 0.72],
    [0.20, 0.10, 0.08, 0.07, 0.08, 0.10, 0.12, 0.14, 0.18, 0.28, 0.45, 0.58, 0.80],
    [0.25, 0.15, 0.10, 0.09, 0.08, 0.07, 0.07, 0.08, 0.10, 0.12, 0.14, 0.22, 0.40, 0.62, 0.88],
    [0.10, 0.08, 0.08, 0.09, 0.10, 0.10, 0.12, 0.16, 0.28, 0.55, 0.90],
    [0.10, 0.08, 0.07, 0.07, 0.07, 0.09, 0.14, 0.30, 0.45, 0.66],
    [0.20, 0.12, 0.09, 0.08, 0.07, 0.07, 0.07, 0.08, 0.10, 0.14, 0.25, 0.45, 0.72],
]

# ---------------- layout ----------------
W, H = 1737, 326
fig = plt.figure(figsize=(W / 100, H / 100), dpi=100)

panel_left = [74, 312, 550, 787, 1025, 1262, 1500]
panel_w = 229
panel_top, panel_bot = 62, 278
strip_top = 39
xlims = [(0.04, 1.048), (-0.024, 0.524), (-0.026, 0.638), (-0.022, 0.526),
         (-0.017, 0.425), (-0.015, 0.367), (-0.055, 1.327)]
ylim = (0.63, 6.29)

dark = '#333333'
strip_fill = '#D9D9D9'
red = '#E0201B'


def minors(major, lo, hi):
    step = major[1] - major[0]
    vals = np.arange(major[0] - step / 2, hi, step)
    return [v for v in vals if lo < v < hi and not np.any(np.isclose(v, major))]


pb = 1 - panel_bot / H
ph = (panel_bot - panel_top) / H
for i, name in enumerate(cell_types):
    l = panel_left[i] / W
    w = panel_w / W
    ax = fig.add_axes([l, pb, w, ph])
    pts = np.array(all_pts[i])
    ax.scatter(pts[:, 0], pts[:, 1], s=36, color='#2E2E2E', linewidths=0, zorder=2)
    fx = np.array(fit_x[i])
    fy = np.array(fit_y[i])
    fs = np.array(fit_se[i])
    ax.fill_between(fx, fy - fs, fy + fs, color='#999999', alpha=0.4, linewidth=0, zorder=3)
    ax.plot(fx, fy, color='#3366FF', lw=2.6, zorder=4, solid_capstyle='butt')
    ax.set_xlim(*xlims[i])
    ax.set_ylim(*ylim)
    ax.set_xticks(x_ticks[i])
    ax.set_xticklabels(x_tick_labels[i])
    ax.set_xticks(minors(x_ticks[i], *xlims[i]), minor=True)
    ax.set_yticks(y_ticks)
    ax.set_yticks(minors(y_ticks, *ylim), minor=True)
    ax.grid(which='major', color='#E8E8E8', lw=1.1, zorder=0)
    ax.grid(which='minor', color='#F1F1F1', lw=0.7, zorder=0)
    ax.set_axisbelow(True)
    ax.tick_params(axis='y', which='both', left=False, labelleft=False)
    ax.tick_params(axis='x', which='minor', length=0)
    ax.tick_params(axis='x', which='major', length=3.5, width=0.9, color=dark,
                   labelsize=8.8, labelcolor='#4D4D4D', pad=1.5)
    for sp in ax.spines.values():
        sp.set_color(dark)
        sp.set_linewidth(1.1)
    ax.text(0.985, 0.978, f"{cor_names[i]} = {cor_values[i]}\np = {p_values[i]}",
            transform=ax.transAxes, ha='right', va='top', color=red,
            fontsize=11, linespacing=1.0, zorder=5)

    # strip on top
    sax = fig.add_axes([l, 1 - panel_top / H, w, (panel_top - strip_top) / H])
    sax.set_facecolor(strip_fill)
    sax.set_xticks([])
    sax.set_yticks([])
    for sp in sax.spines.values():
        sp.set_color(dark)
        sp.set_linewidth(1.1)
    sax.text(0.5, 0.47, name, ha='center', va='center', fontsize=8.8,
             color='#1A1A1A', transform=sax.transAxes)

# left row strip carrying the y axis
rax = fig.add_axes([51 / W, pb, 23 / W, ph])
rax.set_facecolor(strip_fill)
rax.set_ylim(*ylim)
rax.set_xticks([])
rax.set_yticks(y_ticks)
rax.set_yticklabels([str(v) for v in y_ticks])
rax.tick_params(axis='y', length=3.5, width=0.9, color=dark, labelsize=8.8,
                labelcolor='#4D4D4D', pad=1.5)
for sp in rax.spines.values():
    sp.set_color(dark)
    sp.set_linewidth(1.1)
rax.text(0.45, 0.5, row_label, rotation=90, ha='center', va='center', fontsize=8.8,
         color='#1A1A1A', transform=rax.transAxes)

fig.text(29 / W, 1 - 170 / H, "EZH2 Expression Level (log2 TPM)", rotation=90,
         ha='center', va='center', fontsize=11, color='black')
fig.text(901 / W, 1 - 305 / H, "Infiltration Level", ha='center', va='center',
         fontsize=11, color='black')

fig.savefig('out.png', dpi=100, facecolor='white')
